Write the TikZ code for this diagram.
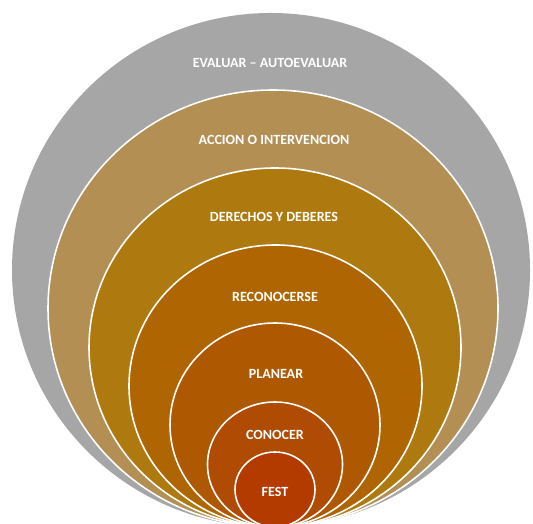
\documentclass[tikz,border=0pt]{standalone}
\usepackage{fontspec}
\setmainfont{Carlito}
\usepackage{tikz}
\usepackage{xcolor}
\definecolor{ringgray}{RGB}{166,166,166}
\definecolor{ringtan}{RGB}{179,143,84}
\definecolor{ringgold}{RGB}{174,122,16}
\definecolor{ringochre}{RGB}{175,102,2}
\definecolor{ringrust}{RGB}{174,89,2}
\definecolor{ringbrick}{RGB}{176,75,3}
\definecolor{ringred}{RGB}{180,59,0}

\begin{document}
\begin{tikzpicture}[x=0.02cm,y=0.02cm,
  ring/.style={draw=white,line width=0.9pt},
  lbl/.style={text=white,font=\fontsize{8}{10}\selectfont\bfseries}]
\useasboundingbox[fill=white] (0,0) rectangle (533,523);
% rings, outside in
\begin{scope}
\clip (0,0) rectangle (533,523);
\fill[ringgray] (271,253) ellipse [x radius=259,y radius=257];
\filldraw[ring,fill=ringtan] (273,214.5) ellipse [x radius=225,y radius=218.5];
\filldraw[ring,fill=ringgold] (275,175.5) ellipse [x radius=186,y radius=179.5];
\filldraw[ring,fill=ringochre] (275.5,137) ellipse [x radius=146.5,y radius=141];
\filldraw[ring,fill=ringrust] (275,98) ellipse [x radius=105,y radius=102];
\filldraw[ring,fill=ringbrick] (275,58.5) ellipse [x radius=67.5,y radius=62.5];
\filldraw[ring,fill=ringred] (275,33.5) ellipse [x radius=40,y radius=37.5];
\end{scope}

% labels
\node[lbl] (evaluar) at (270,460) {EVALUAR – AUTOEVALUAR};
\node[lbl] (accion) at (274,383) {ACCION O INTERVENCION};
\node[lbl] (derechos) at (274,306) {DERECHOS Y DEBERES};
\node[lbl] (reconocerse) at (275,226) {RECONOCERSE};
\node[lbl] (planear) at (276,149) {PLANEAR};
\node[lbl] (conocer) at (275,88) {CONOCER};
\node[lbl] (fest) at (275,31) {FEST};
\end{tikzpicture}
\end{document}
